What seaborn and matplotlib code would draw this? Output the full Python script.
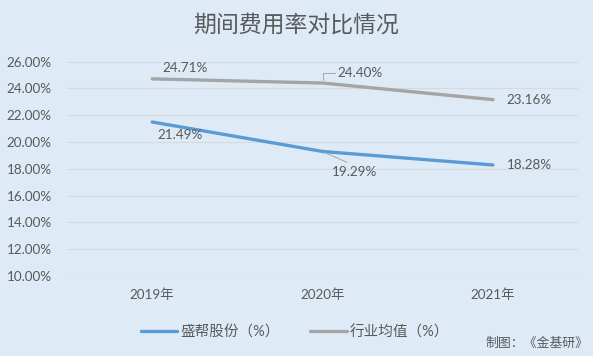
import pandas as pd
import seaborn as sns
import matplotlib.pyplot as plt
from matplotlib.lines import Line2D

years = ['2019年', '2020年', '2021年']
company = [21.49, 19.29, 18.28]
industry = [24.71, 24.40, 23.16]
series_names = ['盛帮股份（%）', '行业均值（%）']

bg = '#DEEBF7'
blue = '#5B9BD5'
gray = '#A5A5A5'
txt = '#595959'

df = pd.DataFrame({
    'year': years * 2,
    'value': company + industry,
    'series': [series_names[0]] * 3 + [series_names[1]] * 3,
})

sns.set_theme(style='white')
plt.rcParams['font.family'] = ['Lato', 'Noto Sans CJK SC']

fig = plt.figure(figsize=(5.93, 3.56), dpi=100, facecolor=bg)
ax = fig.add_axes([0.113, 0.225, 0.862, 0.602])
ax.set_facecolor(bg)
sns.lineplot(data=df, x='year', y='value', hue='series', palette=[blue, gray],
             linewidth=2.4, sort=False, legend=False, ax=ax)

ax.set_ylim(10, 26)
ax.set_yticks(range(10, 27, 2))
ax.yaxis.set_major_formatter(lambda v, p: f'{v:.2f}%')
ax.set_xlim(-0.5, 2.5)
ax.grid(axis='y', color='#d9d9d9', lw=0.8)
ax.grid(axis='x', visible=False)
ax.set_axisbelow(True)
sns.despine(ax=ax, left=True, bottom=True)
ax.set_xlabel('')
ax.set_ylabel('')
ax.tick_params(axis='y', length=0, pad=11, labelsize=9.7, labelcolor=txt)
ax.tick_params(axis='x', length=0, pad=9, labelsize=9.7, labelcolor=txt)

# data labels
lead = dict(arrowstyle='-', color=gray, lw=0.7, shrinkA=0, shrinkB=2)
ax.annotate(f'{industry[0]:.2f}%', (0, industry[0]), xytext=(7, 8), textcoords='offset points',
            ha='left', va='center', fontsize=9.7, color=txt)
ax.annotate(f'{company[0]:.2f}%', (0, company[0]), xytext=(4, -9.5), textcoords='offset points',
            ha='left', va='center', fontsize=9.7, color=txt)
ax.annotate(f'{industry[1]:.2f}%', (1, industry[1]), xytext=(11, 7), textcoords='offset points',
            ha='left', va='center', fontsize=9.7, color=txt,
            arrowprops=dict(lead, relpos=(0, 0.5),
                            connectionstyle='angle,angleA=0,angleB=90,rad=0'))
ax.annotate(f'{company[1]:.2f}%', (1, company[1]), xytext=(6.5, -14.5), textcoords='offset points',
            ha='left', va='center', fontsize=9.7, color=txt,
            arrowprops=dict(lead, relpos=(0.5, 1)))
ax.annotate(f'{industry[2]:.2f}%', (2, industry[2]), xytext=(10, 0), textcoords='offset points',
            ha='left', va='center', fontsize=9.7, color=txt)
ax.annotate(f'{company[2]:.2f}%', (2, company[2]), xytext=(10, 0), textcoords='offset points',
            ha='left', va='center', fontsize=9.7, color=txt)

fig.text(0.5, 1 - 25 / 356, '期间费用率对比情况', ha='center', va='center',
         fontsize=16.5, fontweight='light', color=txt)

handles = [Line2D([], [], color=blue, lw=2.4), Line2D([], [], color=gray, lw=2.4)]
leg = fig.legend(handles, series_names, loc='center', bbox_to_anchor=(295 / 593, 1 - 332 / 356),
                 ncol=2, frameon=False, handlelength=2.5, columnspacing=2.1,
                 handletextpad=0.2, fontsize=10.5)
for t in leg.get_texts():
    t.set_color(txt)

fig.text(588 / 593, 1 - 343 / 356, '制图：《金基研》', ha='right', va='center',
         fontsize=9.3, color=txt)

fig.savefig('out.png', dpi=100, facecolor=bg)
